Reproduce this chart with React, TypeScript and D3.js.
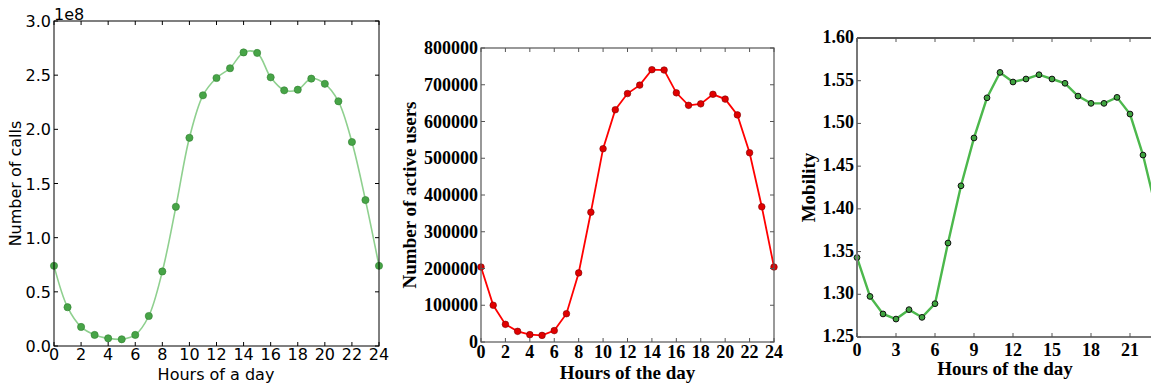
import React from "react";
import * as d3 from "d3";

const hours = d3.range(0, 25);
const callsE8 = [0.74, 0.358, 0.176, 0.102, 0.071, 0.062, 0.102, 0.277, 0.688, 1.285, 1.922, 2.314, 2.474, 2.564, 2.71, 2.705, 2.48, 2.36, 2.366, 2.468, 2.42, 2.259, 1.883, 1.347, 0.74];
const activeUsers = [204000, 100000, 48000, 29000, 20000, 18000, 31000, 77000, 188000, 353000, 526000, 632000, 676000, 699000, 741000, 740000, 678000, 644000, 648000, 674000, 661000, 618000, 515000, 368000, 204000];
const mobility = [1.343, 1.2975, 1.277, 1.271, 1.282, 1.273, 1.289, 1.36, 1.427, 1.483, 1.53, 1.5597, 1.5485, 1.552, 1.557, 1.552, 1.547, 1.532, 1.5235, 1.5235, 1.5305, 1.511, 1.463, 1.40, 1.343];

const xTicks1 = d3.range(0, 25, 2);
const yTicks1 = [0, 0.5, 1.0, 1.5, 2.0, 2.5, 3.0];
const xTicks2 = d3.range(0, 25, 2);
const yTicks2 = d3.range(0, 800001, 100000);
const xTicks3 = d3.range(0, 25, 3);
const yTicks3 = [1.25, 1.3, 1.35, 1.4, 1.45, 1.5, 1.55, 1.6];

const W = 1151;
const SANS = "'DejaVu Sans', sans-serif";
const SERIF = "'Liberation Serif', 'DejaVu Serif', serif";

function Panel1() {
  const L = 54, R = 379, T = 21, B = 346;
  const x = d3.scaleLinear().domain([0, 24]).range([L, R]);
  const y = d3.scaleLinear().domain([0, 3]).range([B, T]);
  const line = d3.line<number>().x((_, i) => x(hours[i])).y((d) => y(d)).curve(d3.curveCatmullRom.alpha(0.5));
  const tl = 4;
  return (
    <g>
      <path d={line(callsE8) || ""} fill="none" stroke="#8fd08f" strokeWidth={1.6} />
      {callsE8.map((v, i) => (
        <circle key={i} cx={x(hours[i])} cy={y(v)} r={3.6} fill="#47a447" stroke="#2f7f2f" strokeWidth={0.6} />
      ))}
      <rect x={L} y={T} width={R - L} height={B - T} fill="none" stroke="#000" strokeWidth={1} />
      {xTicks1.map((t) => (
        <g key={"x" + t}>
          <line x1={x(t)} x2={x(t)} y1={B} y2={B - tl} stroke="#000" />
          <line x1={x(t)} x2={x(t)} y1={T} y2={T + tl} stroke="#000" />
          <text x={x(t)} y={360} textAnchor="middle" fontFamily={SANS} fontSize={16} fill="#000">{t}</text>
        </g>
      ))}
      {yTicks1.map((t) => (
        <g key={"y" + t}>
          <line x1={L} x2={L + tl} y1={y(t)} y2={y(t)} stroke="#000" />
          <line x1={R} x2={R - tl} y1={y(t)} y2={y(t)} stroke="#000" />
          <text x={L - 3} y={y(t) + 6} textAnchor="end" fontFamily={SANS} fontSize={16} fill="#000">{t.toFixed(1)}</text>
        </g>
      ))}
      <text x={L} y={T - 1} fontFamily={SANS} fontSize={16} fill="#000">1e8</text>
      <text x={216} y={380} textAnchor="middle" fontFamily={SANS} fontSize={16} fill="#000">Hours of a day</text>
      <text transform={`translate(21,${(T + B) / 2}) rotate(-90)`} textAnchor="middle" fontFamily={SANS} fontSize={16} fill="#000">Number of calls</text>
    </g>
  );
}

function Panel2() {
  const L = 481, R = 774, T = 48, B = 342;
  const x = d3.scaleLinear().domain([0, 24]).range([L, R]);
  const y = d3.scaleLinear().domain([0, 800000]).range([B, T]);
  const line = d3.line<number>().x((_, i) => x(hours[i])).y((d) => y(d));
  const tl = 4;
  return (
    <g>
      <path d={line(activeUsers) || ""} fill="none" stroke="#ff0000" strokeWidth={1.8} />
      {activeUsers.map((v, i) => (
        <circle key={i} cx={x(hours[i])} cy={y(v)} r={3.3} fill="#e00000" stroke="#800000" strokeWidth={0.6} />
      ))}
      <rect x={L} y={T} width={R - L} height={B - T} fill="none" stroke="#555" strokeWidth={1.2} />
      {xTicks2.map((t) => (
        <g key={"x" + t}>
          <line x1={x(t)} x2={x(t)} y1={B} y2={B - tl} stroke="#555" />
          <line x1={x(t)} x2={x(t)} y1={T} y2={T + tl} stroke="#555" />
          <text x={x(t)} y={358} textAnchor="middle" fontFamily={SERIF} fontWeight="bold" fontSize={18} fill="#000">{t}</text>
        </g>
      ))}
      {yTicks2.map((t) => (
        <g key={"y" + t}>
          <line x1={L} x2={L + tl} y1={y(t)} y2={y(t)} stroke="#555" />
          <line x1={R} x2={R - tl} y1={y(t)} y2={y(t)} stroke="#555" />
          <text x={L - 3} y={y(t) + 6} textAnchor="end" fontFamily={SERIF} fontWeight="bold" fontSize={18} fill="#000">{t}</text>
        </g>
      ))}
      <text x={(L + R) / 2} y={379} textAnchor="middle" fontFamily={SERIF} fontWeight="bold" fontSize={19} fill="#000">Hours of the day</text>
      <text transform={`translate(416,${(T + B) / 2}) rotate(-90)`} textAnchor="middle" fontFamily={SERIF} fontWeight="bold" fontSize={19} fill="#000">Number of active users</text>
    </g>
  );
}

function Panel3() {
  const L = 857, T = 38, B = 337;
  const R = L + 13 * 24;
  const x = d3.scaleLinear().domain([0, 24]).range([L, R]);
  const y = d3.scaleLinear().domain([1.25, 1.6]).range([B, T]);
  const line = d3.line<number>().x((_, i) => x(hours[i])).y((d) => y(d));
  const tl = 4;
  return (
    <g>
      <path d={line(mobility) || ""} fill="none" stroke="#4cb84c" strokeWidth={2.4} />
      {mobility.map((v, i) => (
        <circle key={i} cx={x(hours[i])} cy={y(v)} r={2.9} fill="#3fa33f" stroke="#111" strokeWidth={1} />
      ))}
      <line x1={L} x2={R} y1={T} y2={T} stroke="#222" strokeWidth={1.3} />
      <line x1={L} x2={L} y1={T} y2={B} stroke="#777" strokeWidth={2} />
      <line x1={L} x2={R} y1={B} y2={B} stroke="#777" strokeWidth={2} />
      {xTicks3.map((t) => (
        <g key={"x" + t}>
          <line x1={x(t)} x2={x(t)} y1={B} y2={B - tl} stroke="#555" />
          <line x1={x(t)} x2={x(t)} y1={T} y2={T + tl} stroke="#555" />
          {x(t) + 10 < W && (
            <text x={x(t)} y={356} textAnchor="middle" fontFamily={SERIF} fontWeight="bold" fontSize={18} fill="#000">{t}</text>
          )}
        </g>
      ))}
      {yTicks3.map((t) => (
        <g key={"y" + t}>
          <line x1={L} x2={L + tl} y1={y(t)} y2={y(t)} stroke="#555" />
          <text x={L - 3} y={y(t) + 5} textAnchor="end" fontFamily={SERIF} fontWeight="bold" fontSize={18} fill="#000">{t.toFixed(2)}</text>
        </g>
      ))}
      <text x={1005} y={375} textAnchor="middle" fontFamily={SERIF} fontWeight="bold" fontSize={19} fill="#000">Hours of the day</text>
      <text transform={`translate(815,${(T + B) / 2}) rotate(-90)`} textAnchor="middle" fontFamily={SERIF} fontWeight="bold" fontSize={19} fill="#000">Mobility</text>
    </g>
  );
}

export default function App() {
  return (
    <svg width={W} height={385} style={{ position: "absolute", left: 0, top: 0, background: "#fff" }}>
      <rect width={W} height={385} fill="#fff" />
      <Panel1 />
      <Panel2 />
      <Panel3 />
    </svg>
  );
}
